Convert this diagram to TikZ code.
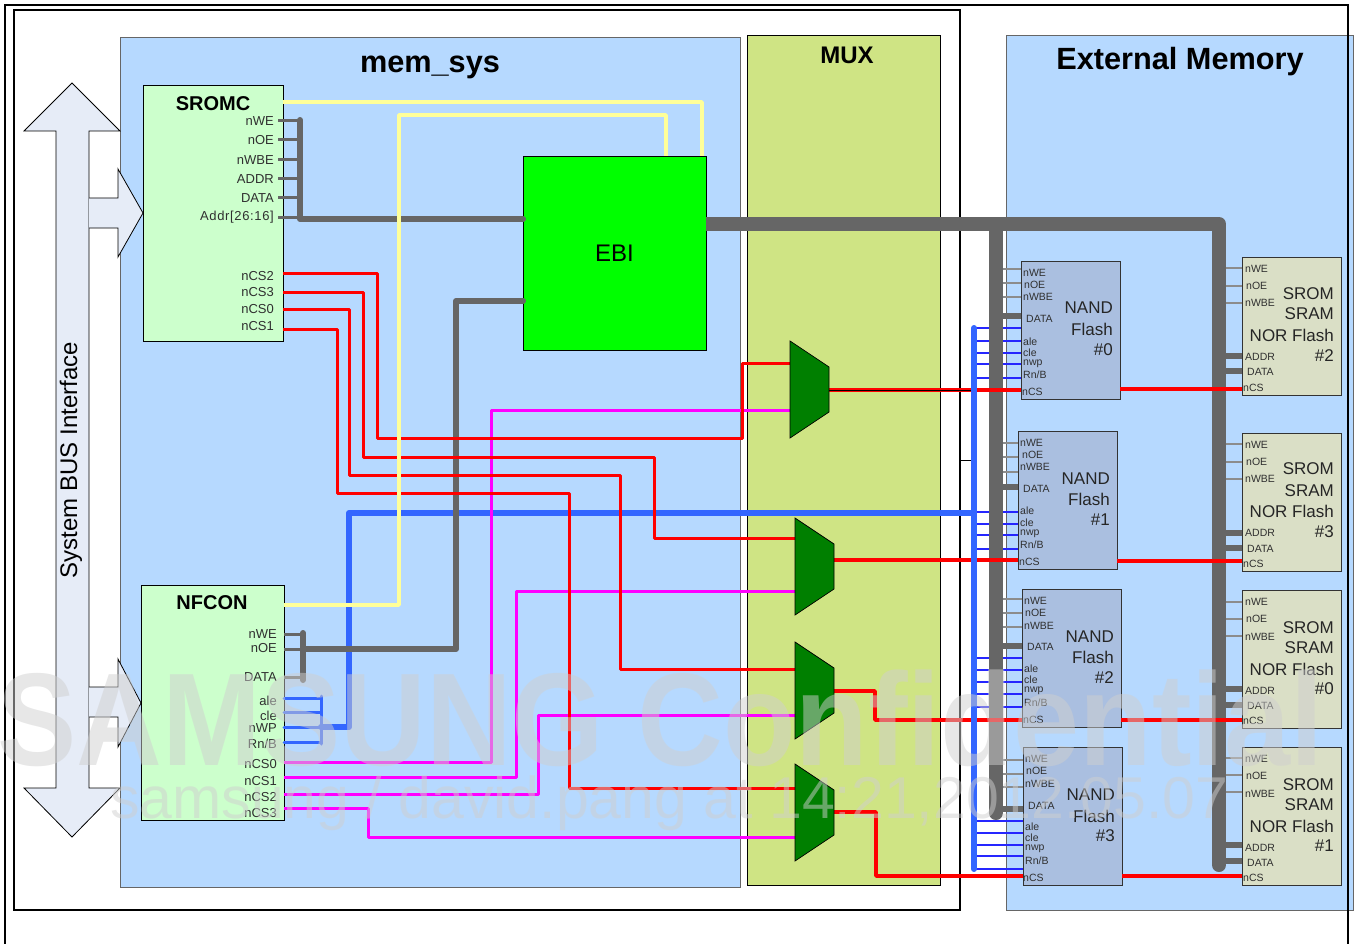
\documentclass[tikz,border=0pt]{standalone}
\usepackage{fontspec}
\usepackage{graphicx}
\setmainfont{Liberation Sans}
\newcommand\fs[1]{\fontsize{#1}{#1}\selectfont}
\definecolor{panelblue}{HTML}{B6D9FF}
\definecolor{muxpanel}{HTML}{CFE484}
\definecolor{ctrlgreen}{HTML}{CCFFCC}
\definecolor{nandfill}{HTML}{AABFE0}
\definecolor{sromfill}{HTML}{DADFC6}
\definecolor{muxgreen}{HTML}{007F00}
\definecolor{busgray}{HTML}{666666}
\definecolor{busblue}{HTML}{3366FF}
\definecolor{wirered}{HTML}{FF0000}
\definecolor{wiremag}{HTML}{FF00FF}
\definecolor{wireyel}{HTML}{FFFF99}
\definecolor{arrowfill}{HTML}{E6ECF7}
\definecolor{porttext}{HTML}{303030}
\definecolor{wmark}{HTML}{CFCFCF}
\tikzset{
  boxbase/.style={anchor=north west,inner sep=0pt,outer sep=0pt,draw=black,line width=.9pt},
  panelbox/.style={boxbase,fill=panelblue,draw=#1},
  ctrlbox/.style={boxbase,fill=ctrlgreen},
  nandbox/.style={boxbase,fill=nandfill,draw=black!80,minimum width=99pt,minimum height=138pt},
  srombox/.style={boxbase,fill=sromfill,draw=black!80,minimum width=99pt,minimum height=138pt},
  title/.style={font=\fs{30.7}\bfseries,inner sep=0pt},
  ctrltitle/.style={font=\fs{20}\bfseries,inner sep=0pt},
  portlab/.style={font=\fs{13},text=porttext,anchor=east,inner sep=0pt,yshift=-.5pt},
  tinylab/.style={font=\fs{10.5},text=porttext,anchor=west,inner sep=0pt,yshift=-.5pt},
  biglab/.style={font=\fs{17},text=black!85,anchor=east,inner sep=0pt},
  frameline/.style={draw=black,line width=2pt},
  busarrow/.style={draw=black,line width=.8pt,fill=arrowfill,line join=miter},
  muxshape/.style={draw=black,line width=.7pt,fill=muxgreen},
  redw/.style={draw=wirered,line width=3pt,line join=round},
  redout/.style={draw=wirered,line width=3.6pt,line join=round},
  magw/.style={draw=wiremag,line width=3pt,line join=round},
  yelw/.style={draw=wireyel,line width=3.6pt,line join=round},
  bluebus/.style={draw=busblue,line width=6pt,line join=round,line cap=round},
  bluestub/.style={draw=busblue,line width=3pt,line cap=round,line join=round},
  bluethin/.style={draw=blue!85!white,line width=1.1pt},
  graybig/.style={draw=busgray,line width=14pt,line cap=round,line join=round},
  graymid/.style={draw=busgray,line width=6pt,line cap=round,line join=round},
  graystub/.style={draw=busgray,line width=3pt},
  graythick/.style={draw=busgray,line width=6.5pt},
  graythin/.style={draw=black!45,line width=1.2pt},
  wmarkbig/.style={text=wmark,text opacity=.5,font=\fs{132}\bfseries,inner sep=0pt},
  wmarksmall/.style={text=wmark,text opacity=.5,font=\fs{59},inner sep=0pt},
}
\begin{document}
\begin{tikzpicture}[x=1pt,y=-1pt]
\useasboundingbox (0,0) rectangle (1354,944);
% ---------- frames and panels
\node[panelbox=black!60,minimum width=347pt,minimum height=875pt] (extmem) at (1006,35) {};
\node[boxbase,line width=2pt,minimum width=946pt,minimum height=900pt] (innerframe) at (14,10) {};
\draw[frameline] (5,944) coordinate (outerA) -- (5,5) -- (1348,5) -- (1348,944) coordinate (outerB);
\node[panelbox=black!60,minimum width=620pt,minimum height=850pt] (memsys) at (120,37) {};
\node[boxbase,fill=muxpanel,minimum width=193pt,minimum height=850pt] (muxpanel) at (747,35) {};
\node[title] (memtitle) at (430,67) {mem\_sys};
\node[font=\fs{24}\bfseries,inner sep=0pt] (muxtitle) at (847,55) {MUX};
\node[title] (exttitle) at (1180,62) {External Memory};
% ---------- system bus arrows
\draw[busarrow] (72,83) -- (120,131) -- (89,131) -- (89,788) -- (120,788) -- (72,837) -- (24,788) -- (56,788) -- (56,131) -- (24,131) -- cycle;
\draw[busarrow] (89,198) -- (118,198) -- (118,169) -- (143,213) -- (118,257) -- (118,228) -- (89,228);
\draw[busarrow] (89,687) -- (118,687) -- (118,659) -- (141,703) -- (118,747) -- (118,717) -- (89,717);
\node[rotate=90,font=\fs{24},inner sep=0pt] (buslabel) at (71,460) {System BUS Interface};
% ---------- controllers
\node[ctrlbox,minimum width=140pt,minimum height=256pt] (sromc) at (143,85) {};
\node[ctrltitle] (sromctitle) at (213,104) {SROMC};
\node[ctrlbox,minimum width=143pt,minimum height=235pt] (nfcon) at (141,585) {};
\node[ctrltitle] (nfcontitle) at (212,603) {NFCON};
\foreach \t/\y [count=\i] in {nWE/121,nOE/140,nWBE/160,ADDR/179,DATA/198,nCS2/276,nCS3/292,nCS0/309,nCS1/326}
  \node[portlab] (sl\i) at (274,\y) {\t};
\node[portlab] (slA) at (274,217) {\addfontfeature{LetterSpace=5}Addr[26:16]};
\foreach \t/\y [count=\i] in {nWE/634,nOE/648,DATA/677,ale/700,cle/715,nWP/728,{Rn/B}/743,nCS0/764,nCS1/781,nCS2/797,nCS3/813}
  \node[portlab] (nl\i) at (277,\y) {\t};
% ---------- EBI
\node[boxbase,fill=green,minimum width=183pt,minimum height=194pt,font=\fs{24}] (ebi) at (523,156) {EBI};
% ---------- NAND blocks
\node[nandbox] (n0) at (1021,261) {};
\node[nandbox] (n1) at (1018,431) {};
\node[nandbox] (n2) at (1022,589) {};
\node[nandbox] (n3) at (1023,747) {};
% ---------- SROM blocks
\node[srombox] (s2) at (1242,257) {};
\node[srombox] (s3) at (1242,433) {};
\node[srombox] (s0) at (1242,590) {};
\node[srombox] (s1) at (1242,747) {};
% ---------- bus anchors
\coordinate (bluev) at (974,328);
\coordinate (grayl) at (996,224);
\coordinate (graylE) at (1003,224);
\coordinate (grayr) at (1219,224);
\coordinate (grayrE) at (1226,224);
\coordinate (srombus) at (300,120);
\coordinate (nfbus) at (303,633);
\coordinate (nfblue) at (321,696);
% ---------- blue layer
\foreach \y in {328,341,353,364,378} \draw[bluethin] (bluev |- 0,\y) -- (n0.west |- 0,\y);
\foreach \y in {512,524,535,549} \draw[bluethin] (bluev |- 0,\y) -- (n1.west |- 0,\y);
\foreach \y in {658,670,682,694,707} \draw[bluethin] (bluev |- 0,\y) -- (n2.west |- 0,\y);
\foreach \y in {821,833,845,856,869} \draw[bluethin] (bluev |- 0,\y) -- (n3.west |- 0,\y);
\foreach \y in {698,712,727,742} \draw[bluestub] (nfcon.east |- 0,\y) -- (nfblue |- 0,\y);
\draw[bluestub] (nfblue) -- (321,744);
\draw[bluebus] (nfblue |- 0,727) -- (349,727) -- (349,513) -- (bluev |- 0,513);
% ---------- gray layer
\foreach \y in {121,140,160,179,198,217} \draw[graystub] (278,\y) -- (srombus |- 0,\y);
\draw[graymid] (srombus) -- (300,219) -- (ebi.west |- 0,219);
\foreach \y in {634,649,677} \draw[graystub] (nfcon.east |- 0,\y) -- (nfbus |- 0,\y);
\draw[graymid] (nfbus) -- (303,680);
\draw[graymid] (nfbus |- 0,649) -- (456,649) -- (456,301) -- (ebi.west |- 0,301);
\draw[graybig] (grayr) -- (1219,865);
\draw[graybig,line cap=butt] (grayl) -- (996,813);
\draw[graybig] (996,800) -- (996,813);
\draw[graybig,line cap=butt] (ebi.east |- grayr) -- (grayr);
\foreach \n/\a/\b/\c/\d in {n0/269/283/297/316,n1/443/457/472/487,n2/599/613/627/646,n3/760/774/787/809}{
  \draw[graythin] (graylE |- 0,\a) -- (\n.west |- 0,\a);
  \draw[graythin] (graylE |- 0,\b) -- (\n.west |- 0,\b);
  \draw[graythin] (graylE |- 0,\c) -- (\n.west |- 0,\c);
  \draw[graythick] (grayl |- 0,\d) -- (\n.west |- 0,\d);
}
\foreach \n/\a/\b/\c/\d/\e in {s2/268/286/303/356/371,s3/444/462/479/533/548,s0/602/619/636/689/705,s1/758/775/792/845/861}{
  \draw[graythin] (grayrE |- 0,\a) -- (\n.west |- 0,\a);
  \draw[graythin] (grayrE |- 0,\b) -- (\n.west |- 0,\b);
  \draw[graythin] (grayrE |- 0,\c) -- (\n.west |- 0,\c);
  \draw[graythick] (grayr |- 0,\d) -- (\n.west |- 0,\d);
  \draw[graythick] (grayr |- 0,\e) -- (\n.west |- 0,\e);
}
% ---------- multiplexers
\foreach \n/\l/\t/\ya/\yb/\yo in {m0/790/341/363/410/390,m1/795/518/538/591/560,m2/795/642/669/715/691,m3/795/764/788/837/812}{
  \coordinate (\n-a) at (\l,\ya);
  \coordinate (\n-b) at (\l,\yb);
  \coordinate (\n-o) at (\l+39,\yo);
}
% ---------- magenta wires
\draw[magw] (nfcon.east |- 0,762) -| (491,410) -- (m0-b);
\draw[magw] (nfcon.east |- 0,777) -| (516,591) -- (m1-b);
\draw[magw] (nfcon.east |- 0,794) -| (538,715) -- (m2-b);
\draw[magw] (nfcon.east |- 0,808) -| (368,837) -- (m3-b);
% ---------- red wires
\draw[redw] (sromc.east |- 0,273) -| (377,438) -| (742,363) -- (m0-a);
\draw[redw] (sromc.east |- 0,292) -| (363,457) -| (654,538) -- (m1-a);
\draw[redw] (sromc.east |- 0,309) -| (349,475) -| (620,669) -- (m2-a);
\draw[redw] (sromc.east |- 0,329) -| (337,493) -| (569,788) -- (m3-a);
\draw[redout] (m0-o) -- (n0.west |- m0-o);
\draw[draw=black,line width=.9pt] (m0-o) -- (972,390) -- (972,460) -- (960,460);
\draw[redout] (n0.east |- 0,389) -- (s2.west |- 0,389);
\draw[redout] (m1-o) -- (n1.west |- m1-o);
\draw[redout] (n1.east |- 0,561) -- (s3.west |- 0,561);
\draw[redout] (m2-o) -| (875,720) -- (n2.west |- 0,720);
\draw[redout] (n2.east |- 0,720) -- (s0.west |- 0,720);
\draw[redout] (m3-o) -| (876,876) -- (n3.west |- 0,876);
\draw[redout] (n3.east |- 0,876) -- (s1.west |- 0,876);
% ---------- blue trunk stays above the red crossings
\draw[bluebus] (bluev) -- (974,869);
% ---------- yellow wires
\draw[yelw] (sromc.east |- 0,102) -| (ebi.north -| 702,0);
\draw[yelw] (nfcon.east |- 0,605) -| (399,115) -| (ebi.north -| 666,0);
% ---------- multiplexer bodies
\foreach \n/\l/\t in {m0/790/341,m1/795/518,m2/795/642,m3/795/764}
  \draw[muxshape] (\l,\t) -- (\l+39,\t+26) -- (\l+39,\t+71) -- (\l,\t+97) -- cycle;
% ---------- NAND labels
\foreach \t/\x/\y [count=\i] in {nWE/1023/272,nOE/1024/284,nWBE/1023/296,DATA/1026/318,ale/1023/341,cle/1023/352,nwp/1023/363,{Rn/B}/1023/374,nCS/1022/391}
  \node[tinylab] (n0t\i) at (\x,\y) {\t};
\foreach \t/\x/\y [count=\i] in {nWE/1020/442,nOE/1022/454,nWBE/1020/466,DATA/1023/488,ale/1020/510,cle/1020/522,nwp/1020/533,{Rn/B}/1020/544,nCS/1019/561}
  \node[tinylab] (n1t\i) at (\x,\y) {\t};
\foreach \t/\x/\y [count=\i] in {nWE/1024/600,nOE/1025/612,nWBE/1024/625,DATA/1027/646,ale/1024/668,cle/1024/679,nwp/1024/690,{Rn/B}/1024/702,nCS/1023/719}
  \node[tinylab] (n2t\i) at (\x,\y) {\t};
\foreach \t/\x/\y [count=\i] in {nWE/1025/758,nOE/1026/770,nWBE/1025/783,DATA/1028/805,ale/1025/826,cle/1025/837,nwp/1025/848,{Rn/B}/1025/860,nCS/1023/877}
  \node[tinylab] (n3t\i) at (\x,\y) {\t};
\foreach \b/\x/\ya/\yb/\yc/\t in {n0/1113/308/329/350/\#0,n1/1110/479/499/520/\#1,n2/1114/637/657/678/\#2,n3/1115/795/816/836/\#3}{
  \node[biglab] (\b-a) at (\x,\ya) {NAND};
  \node[biglab] (\b-b) at (\x,\yb) {Flash};
  \node[biglab] (\b-c) at (\x,\yc) {\t};
}
% ---------- SROM labels
\foreach \b/\a/\bb/\c/\d/\e/\f/\ya/\yb/\yc/\yd/\t in {
  s2/268/285/302/356/371/387/294/314/335/356/\#2,
  s3/444/461/478/532/548/563/469/491/511/532/\#3,
  s0/601/618/636/690/705/720/628/648/669/689/\#0,
  s1/758/775/793/847/862/877/785/805/826/846/\#1}{
  \node[tinylab] (\b-p1) at (1245,\a) {nWE};
  \node[tinylab] (\b-p2) at (1246,\bb) {nOE};
  \node[tinylab] (\b-p3) at (1245,\c) {nWBE};
  \node[tinylab] (\b-p4) at (1245,\d) {ADDR};
  \node[tinylab] (\b-p5) at (1247,\e) {DATA};
  \node[tinylab] (\b-p6) at (1243,\f) {nCS};
  \node[biglab] (\b-a) at (1334,\ya) {SROM};
  \node[biglab] (\b-b) at (1334,\yb) {SRAM};
  \node[biglab] (\b-c) at (1334,\yc) {NOR Flash};
  \node[biglab] (\b-d) at (1334,\yd) {\t};
}
% ---------- watermark
\node[wmarkbig,anchor=west] (wm1) at (-3,718) {\scalebox{.9}[1]{SAMSUNG Confidential}};
\node[wmarksmall,anchor=west] (wm2) at (110,803) {samsung / david.pang at 14:21,2012.05.07};
\end{tikzpicture}
\end{document}
